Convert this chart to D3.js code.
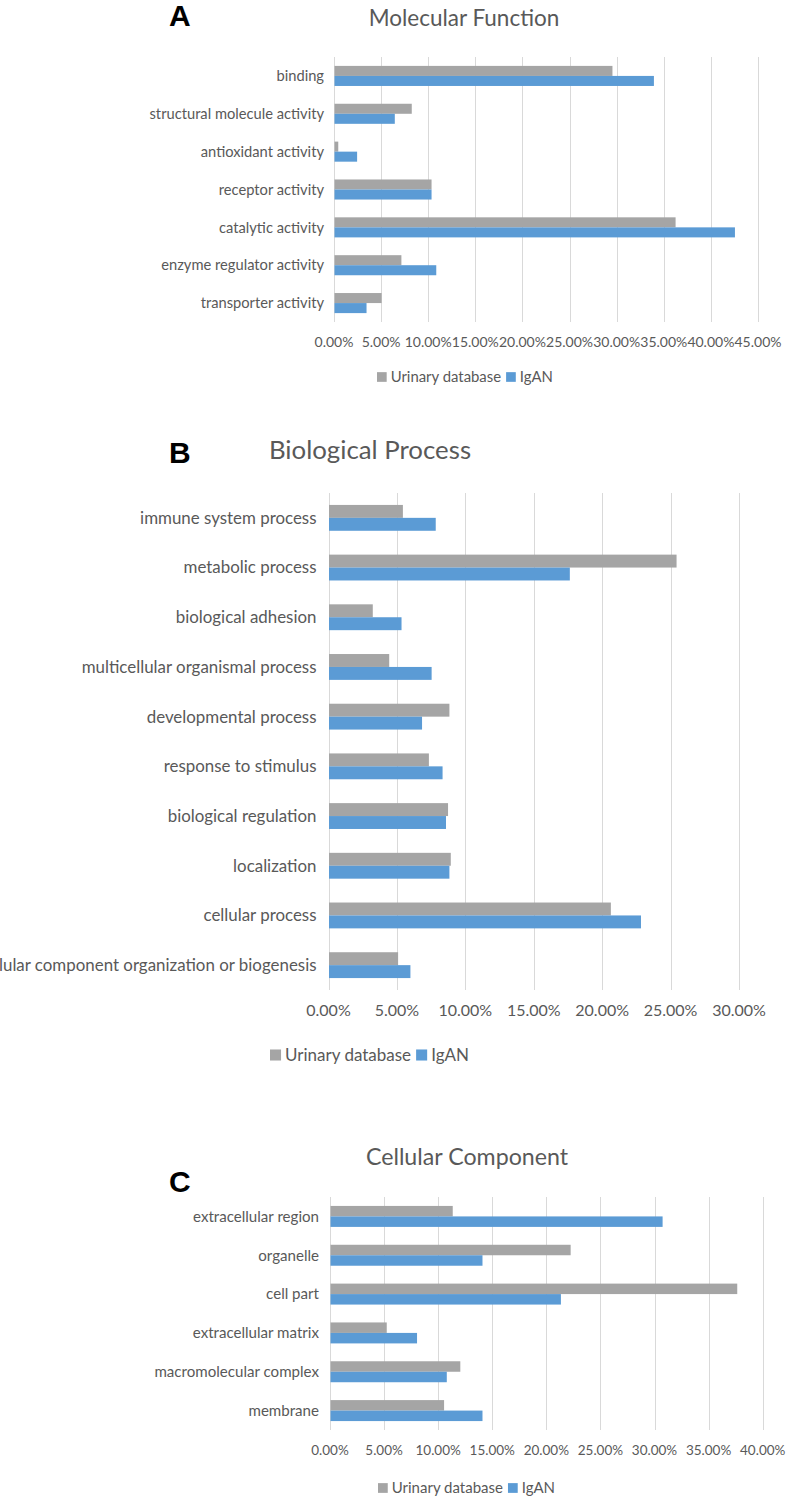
<!DOCTYPE html>
<html><head><meta charset="utf-8">
<script src="https://cdn.jsdelivr.net/npm/d3@7"></script>
<style>body{margin:0;background:#fff}svg{display:block}</style>
</head><body>
<svg id="chart" width="787" height="1499"></svg>
<script>
// ---------- data ----------
const seriesNames = ["Urinary database", "IgAN"];

const mfCategories = ["binding", "structural molecule activity", "antioxidant activity", "receptor activity", "catalytic activity", "enzyme regulator activity", "transporter activity"];
const mfUrinary = [29.5, 8.2, 0.4, 10.3, 36.2, 7.1, 5.0];
const mfIgAN = [33.9, 6.4, 2.4, 10.3, 42.5, 10.8, 3.4];
const mfTicks = [0, 5, 10, 15, 20, 25, 30, 35, 40, 45];

const bpCategories = ["immune system process", "metabolic process", "biological adhesion", "multicellular organismal process", "developmental process", "response to stimulus", "biological regulation", "localization", "cellular process", "cellular component organization or biogenesis"];
const bpUrinary = [5.4, 25.4, 3.2, 4.4, 8.8, 7.3, 8.7, 8.9, 20.6, 5.05];
const bpIgAN = [7.8, 17.6, 5.3, 7.5, 6.8, 8.3, 8.55, 8.8, 22.8, 5.95];
const bpTicks = [0, 5, 10, 15, 20, 25, 30];

const ccCategories = ["extracellular region", "organelle", "cell part", "extracellular matrix", "macromolecular complex", "membrane"];
const ccUrinary = [11.3, 22.2, 37.6, 5.2, 12.0, 10.5];
const ccIgAN = [30.7, 14.05, 21.3, 8.0, 10.75, 14.05];
const ccTicks = [0, 5, 10, 15, 20, 25, 30, 35, 40];

// ---------- style ----------
const colors = {"Urinary database": "#A5A5A5", "IgAN": "#5B9BD5"};
const FONT = "Lato, 'Open Sans', sans-serif";
const svg = d3.select("#chart");
const fmt = v => d3.format(".2f")(v) + "%";

function drawPanel(o) {
  const g = svg.append("g");
  const rows = o.cats.map((c, i) => ({cat: c, values: [
    {s: seriesNames[0], v: o.s1[i]}, {s: seriesNames[1], v: o.s2[i]}]}));
  const x = d3.scaleLinear().domain([0, d3.max(o.ticks)]).range([o.left, o.right]);
  const y = d3.scaleBand().domain(o.cats).range([o.top, o.bottom])
    .paddingInner(o.pad).paddingOuter(o.pad / 2);
  const ys = d3.scaleBand().domain(seriesNames).range([0, y.bandwidth()]);

  // gridlines
  g.append("g").selectAll("line").data(o.ticks).join("line")
    .attr("x1", d => Math.round(x(d)) + 0.5).attr("x2", d => Math.round(x(d)) + 0.5)
    .attr("y1", o.top).attr("y2", o.bottom)
    .attr("stroke", "#D9D9D9").attr("stroke-width", 1);

  // bars
  const cg = g.append("g").selectAll("g").data(rows).join("g")
    .attr("transform", d => `translate(0,${y(d.cat)})`);
  cg.selectAll("rect").data(d => d.values).join("rect")
    .attr("x", x(0) + 0.5).attr("y", d => ys(d.s))
    .attr("width", d => x(d.v) - x(0)).attr("height", ys.bandwidth())
    .attr("fill", d => colors[d.s]);

  // category labels
  g.append("g").selectAll("text").data(o.cats).join("text")
    .attr("x", o.left - o.labelGap).attr("y", d => y(d) + y.bandwidth() / 2)
    .attr("dy", "0.35em").attr("text-anchor", "end")
    .attr("font-family", FONT).attr("font-size", o.labelSize).attr("fill", "#595959")
    .text(d => d);

  // tick labels
  g.append("g").selectAll("text").data(o.ticks).join("text")
    .attr("x", d => x(d)).attr("y", o.tickY).attr("dy", "0.35em")
    .attr("text-anchor", "middle")
    .attr("font-family", FONT).attr("font-size", o.tickSize).attr("fill", "#595959")
    .text(d => fmt(d));

  // title
  g.append("text").attr("x", o.titleX).attr("y", o.titleY).attr("dy", "0.35em")
    .attr("text-anchor", "middle").attr("font-family", FONT)
    .attr("font-size", o.titleSize).attr("fill", "#595959").text(o.title);

  // panel letter
  g.append("text").attr("x", 169).attr("y", o.letterY)
    .attr("font-family", "'Liberation Sans', Arial, sans-serif").attr("font-weight", "bold")
    .attr("font-size", 30).attr("fill", "#000").text(o.letter);

  // legend
  const lg = g.append("g").attr("font-family", FONT).attr("font-size", o.legSize).attr("fill", "#595959");
  const sw = o.legSize * 0.65;
  let cx = o.legX;
  seriesNames.forEach(s => {
    lg.append("rect").attr("x", cx).attr("y", o.legY - sw / 2).attr("width", sw).attr("height", sw).attr("fill", colors[s]);
    const t = lg.append("text").attr("x", cx + sw + 4).attr("y", o.legY).attr("dy", "0.35em").text(s);
    cx += sw + 4 + t.node().getComputedTextLength() + 5;
  });
}

drawPanel({cats: mfCategories, s1: mfUrinary, s2: mfIgAN, ticks: mfTicks,
  left: 334, right: 758, top: 57, bottom: 322, pad: 0.47,
  labelGap: 10, labelSize: 14.7, tickY: 342, tickSize: 14,
  title: "Molecular Function", titleX: 464, titleY: 18, titleSize: 22.5,
  letter: "A", letterY: 26, legX: 377, legY: 377, legSize: 14.9});

drawPanel({cats: bpCategories, s1: bpUrinary, s2: bpIgAN, ticks: bpTicks,
  left: 328.5, right: 739, top: 493, bottom: 990, pad: 0.48,
  labelGap: 12, labelSize: 16.9, tickY: 1010, tickSize: 16,
  title: "Biological Process", titleX: 370, titleY: 450, titleSize: 25.8,
  letter: "B", letterY: 463, legX: 270, legY: 1055, legSize: 17});

drawPanel({cats: ccCategories, s1: ccUrinary, s2: ccIgAN, ticks: ccTicks,
  left: 330, right: 762.7, top: 1197, bottom: 1430, pad: 0.46,
  labelGap: 11, labelSize: 15.1, tickY: 1450, tickSize: 13.5,
  title: "Cellular Component", titleX: 467, titleY: 1157, titleSize: 23.2,
  letter: "C", letterY: 1192, legX: 378, legY: 1488, legSize: 15});
</script>
</body></html>
